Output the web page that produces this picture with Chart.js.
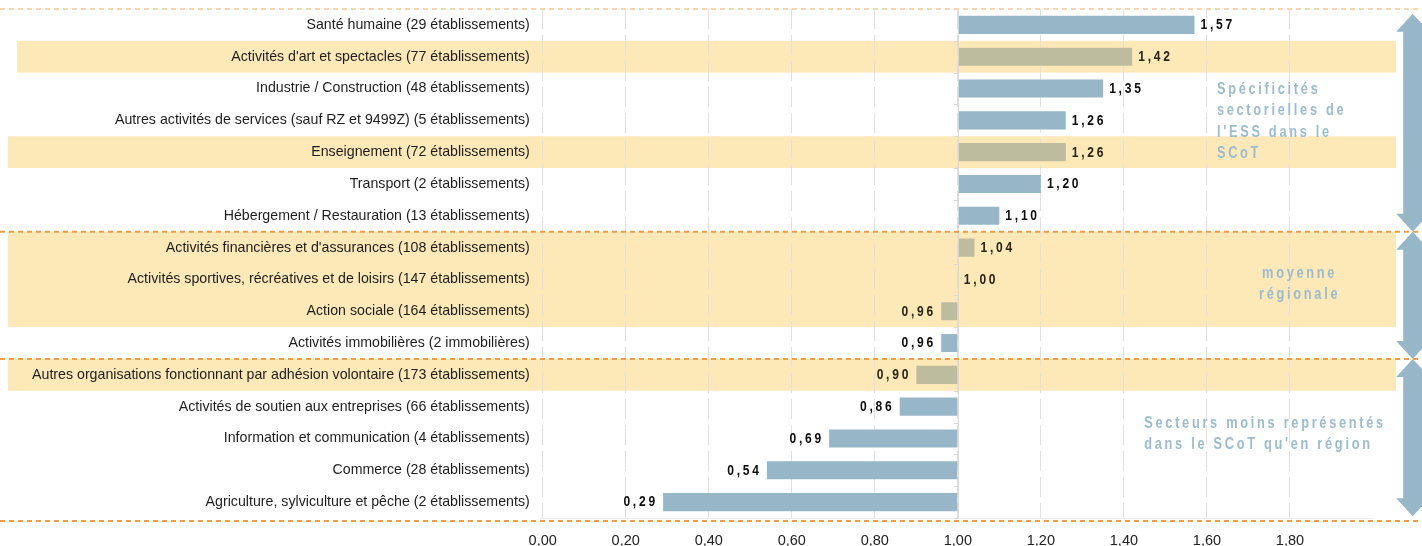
<!DOCTYPE html>
<html lang="fr">
<head>
<meta charset="utf-8">
<title>Indice de spécificité de l'ESS par secteur</title>
<script src="https://cdn.jsdelivr.net/npm/chart.js@4.4.1/dist/chart.umd.min.js"></script>
<style>
  html, body { margin: 0; padding: 0; background: #ffffff; overflow: hidden; }
  #wrap { position: relative; width: 1422px; height: 560px; }
</style>
</head>
<body>
<div id="wrap"><canvas id="chart" width="1422" height="560"></canvas></div>
<script>
// Secteurs d'activité (de haut en bas)
const categories = [
  "Santé humaine (29 établissements)",
  "Activités d'art et spectacles (77 établissements)",
  "Industrie / Construction (48 établissements)",
  "Autres activités de services (sauf RZ et 9499Z) (5 établissements)",
  "Enseignement (72 établissements)",
  "Transport (2 établissements)",
  "Hébergement / Restauration (13 établissements)",
  "Activités financières et d'assurances (108 établissements)",
  "Activités sportives, récréatives et de loisirs (147 établissements)",
  "Action sociale (164 établissements)",
  "Activités immobilières (2 immobilières)",
  "Autres organisations fonctionnant par adhésion volontaire (173 établissements)",
  "Activités de soutien aux entreprises (66 établissements)",
  "Information et communication (4 établissements)",
  "Commerce (28 établissements)",
  "Agriculture, sylviculture et pêche (2 établissements)"
];

// Indice de spécificité (1 = moyenne régionale)
const ratios = [1.57, 1.42, 1.35, 1.26, 1.26, 1.20, 1.10, 1.04, 1.00, 0.96, 0.96, 0.90, 0.86, 0.69, 0.54, 0.29];

// Référence régionale
const regionalMean = 1.0;

// Lignes surlignées
const highlightedRows = [1, 4, 7, 8, 9, 11];

// Groupes de secteurs (indices de début et de fin)
const groupRanges = [[0, 6], [7, 10], [11, 15]];
const groupTitles = [
  ["Spécificités", "sectorielles de", "l'ESS dans le", "SCoT"],
  ["moyenne", "régionale"],
  ["Secteurs moins représentés", "dans le SCoT qu'en région"]
];

const fmt = v => v.toFixed(2).replace('.', ',');

const BLUE = '#97b7c8';
const KHAKI = '#bebc9f';
const BAND = '#fde8b7';
const NOTE = '#9bbccf';
const SANS = '"Liberation Sans", Arial, sans-serif';

// bandes de fond
const bandPlugin = {
  id: 'bands',
  beforeDraw(chart) {
    const { ctx } = chart;
    const y = chart.scales.y;
    const half = (y.getPixelForValue(1) - y.getPixelForValue(0)) / 2;
    ctx.save();
    ctx.fillStyle = BAND;
    // regroupe les lignes contiguës
    const runs = [];
    highlightedRows.forEach(r => {
      const last = runs[runs.length - 1];
      if (last && last[1] === r - 1) last[1] = r; else runs.push([r, r]);
    });
    runs.forEach(([a, b]) => {
      const top = y.getPixelForValue(a) - half;
      const bottom = y.getPixelForValue(b) + half;
      const left = a === 1 ? 17 : 8;
      ctx.fillRect(left, top, 1396 - left, bottom - top);
    });
    ctx.restore();
  }
};

// texte condensé et espacé
function drawSpaced(ctx, text, x, y, align, spacing, squeeze) {
  ctx.save();
  ctx.letterSpacing = (spacing / squeeze) + 'px';
  const w = (ctx.measureText(text).width - spacing / squeeze) * squeeze;
  let sx = x;
  if (align === 'right') sx = x - w;
  else if (align === 'center') sx = x - w / 2;
  ctx.textAlign = 'left';
  ctx.translate(sx, y);
  ctx.scale(squeeze, 1);
  ctx.fillText(text, 0, 0);
  ctx.restore();
}

const overlayPlugin = {
  id: 'overlay',
  afterDatasetsDraw(chart) {
    const { ctx } = chart;
    const x = chart.scales.x;
    const y = chart.scales.y;
    const half = (y.getPixelForValue(1) - y.getPixelForValue(0)) / 2;
    const x1 = x.getPixelForValue(regionalMean);

    ctx.save();
    // axe vertical à 1,00 avec graduations
    ctx.strokeStyle = '#d6d6d6';
    ctx.lineWidth = 1;
    ctx.beginPath();
    ctx.moveTo(x1 + 0.5, y.top);
    ctx.lineTo(x1 + 0.5, y.bottom);
    for (let i = 0; i <= categories.length; i++) {
      const yy = Math.round(y.getPixelForValue(i) - half) + 0.5;
      ctx.moveTo(x1 - 4, yy);
      ctx.lineTo(x1 + 0.5, yy);
    }
    ctx.stroke();

    // étiquettes de valeur
    const meta = chart.getDatasetMeta(0);
    ctx.font = 'bold 14px ' + SANS;
    ctx.textBaseline = 'middle';
    meta.data.forEach((bar, i) => {
      const v = ratios[i];
      const hl = highlightedRows.includes(i);
      ctx.fillStyle = hl ? '#2a2416' : '#0d0d0d';
      if (v >= regionalMean) {
        drawSpaced(ctx, fmt(v), bar.x + 6, bar.y + 0.5, 'left', 2.75, 0.86);
      } else {
        drawSpaced(ctx, fmt(v), bar.x - 8, bar.y + 0.5, 'right', 2.75, 0.86);
      }
    });

    // flèches doubles
    const seps = [
      y.getPixelForValue(groupRanges[0][0]) - half,
      y.getPixelForValue(groupRanges[1][0]) - half,
      y.getPixelForValue(groupRanges[2][0]) - half,
      y.getPixelForValue(groupRanges[2][1]) + half + 3
    ];
    const ax = chart.width - 9.3;
    ctx.fillStyle = BLUE;
    const arrow = (t, b) => {
      const hw = 16.5, hl = 18, sw = 9.5;
      ctx.beginPath();
      ctx.moveTo(ax, t);
      ctx.lineTo(ax + hw, t + hl);
      ctx.lineTo(ax + sw, t + hl);
      ctx.lineTo(ax + sw, b - hl);
      ctx.lineTo(ax + hw, b - hl);
      ctx.lineTo(ax, b);
      ctx.lineTo(ax - hw, b - hl);
      ctx.lineTo(ax - sw, b - hl);
      ctx.lineTo(ax - sw, t + hl);
      ctx.lineTo(ax - hw, t + hl);
      ctx.closePath();
      ctx.fill();
    };
    arrow(seps[0] + 4.7, seps[1]);
    arrow(seps[1], seps[2]);
    arrow(seps[2], seps[3] - 4.7);

    // séparateurs pointillés
    ctx.lineWidth = 2;
    ctx.setLineDash([5, 4]);
    seps.forEach((sy, k) => {
      ctx.strokeStyle = k === 0 ? '#fdd4ae' : '#f59b42';
      ctx.beginPath();
      ctx.moveTo(0, sy);
      ctx.lineTo(chart.width, sy);
      ctx.stroke();
    });
    ctx.setLineDash([]);

    // titres des groupes
    const notes = [
      { x: 1.624, row: 2.02, align: 'left' },
      { x: 1.82, row: 7.81, align: 'center' },
      { x: 1.449, row: 12.53, align: 'left' }
    ];
    ctx.font = 'bold 16px ' + SANS;
    ctx.fillStyle = NOTE;
    ctx.textBaseline = 'middle';
    notes.forEach((n, g) => {
      const nx = x.getPixelForValue(n.x);
      const ny = y.getPixelForValue(n.row);
      groupTitles[g].forEach((line, j) => {
        drawSpaced(ctx, line, nx, ny + j * 21.5, n.align, 2.7, 0.8);
      });
    });
    ctx.restore();
  }
};

new Chart(document.getElementById('chart'), {
  type: 'bar',
  data: {
    labels: categories,
    datasets: [{
      data: ratios,
      base: regionalMean,
      backgroundColor: ratios.map((_, i) => highlightedRows.includes(i) ? KHAKI : BLUE),
      borderWidth: 0,
      barPercentage: 0.57,
      categoryPercentage: 1
    }]
  },
  options: {
    indexAxis: 'y',
    responsive: false,
    animation: false,
    events: [],
    layout: { padding: { top: 9, right: 49, bottom: 0, left: 0 } },
    plugins: { legend: { display: false }, tooltip: { enabled: false } },
    scales: {
      x: {
        min: 0,
        max: 2,
        ticks: {
          stepSize: 0.2,
          callback: v => fmt(v),
          color: '#222222',
          font: { family: SANS, size: 14.5 },
          padding: 14,
          maxRotation: 0
        },
        afterBuildTicks: s => { s.ticks = s.ticks.filter(t => t.value <= 1.8 + 1e-9); },
        afterFit: s => { s.height = 42; s.paddingLeft = 0; s.paddingRight = 0; },
        grid: { color: '#e0e0e0', drawTicks: false },
        border: { display: true, color: '#ececec', dash: [20, 6] }
      },
      y: {
        ticks: {
          color: '#1e1e1e',
          font: { family: SANS, size: 14.2 },
          padding: 13,
          autoSkip: false
        },
        afterFit: s => { s.width = 542.7; s.paddingTop = 0; s.paddingBottom = 0; },
        grid: { display: false, drawTicks: false },
        border: { display: false }
      }
    }
  },
  plugins: [bandPlugin, overlayPlugin]
});
</script>
</body>
</html>
